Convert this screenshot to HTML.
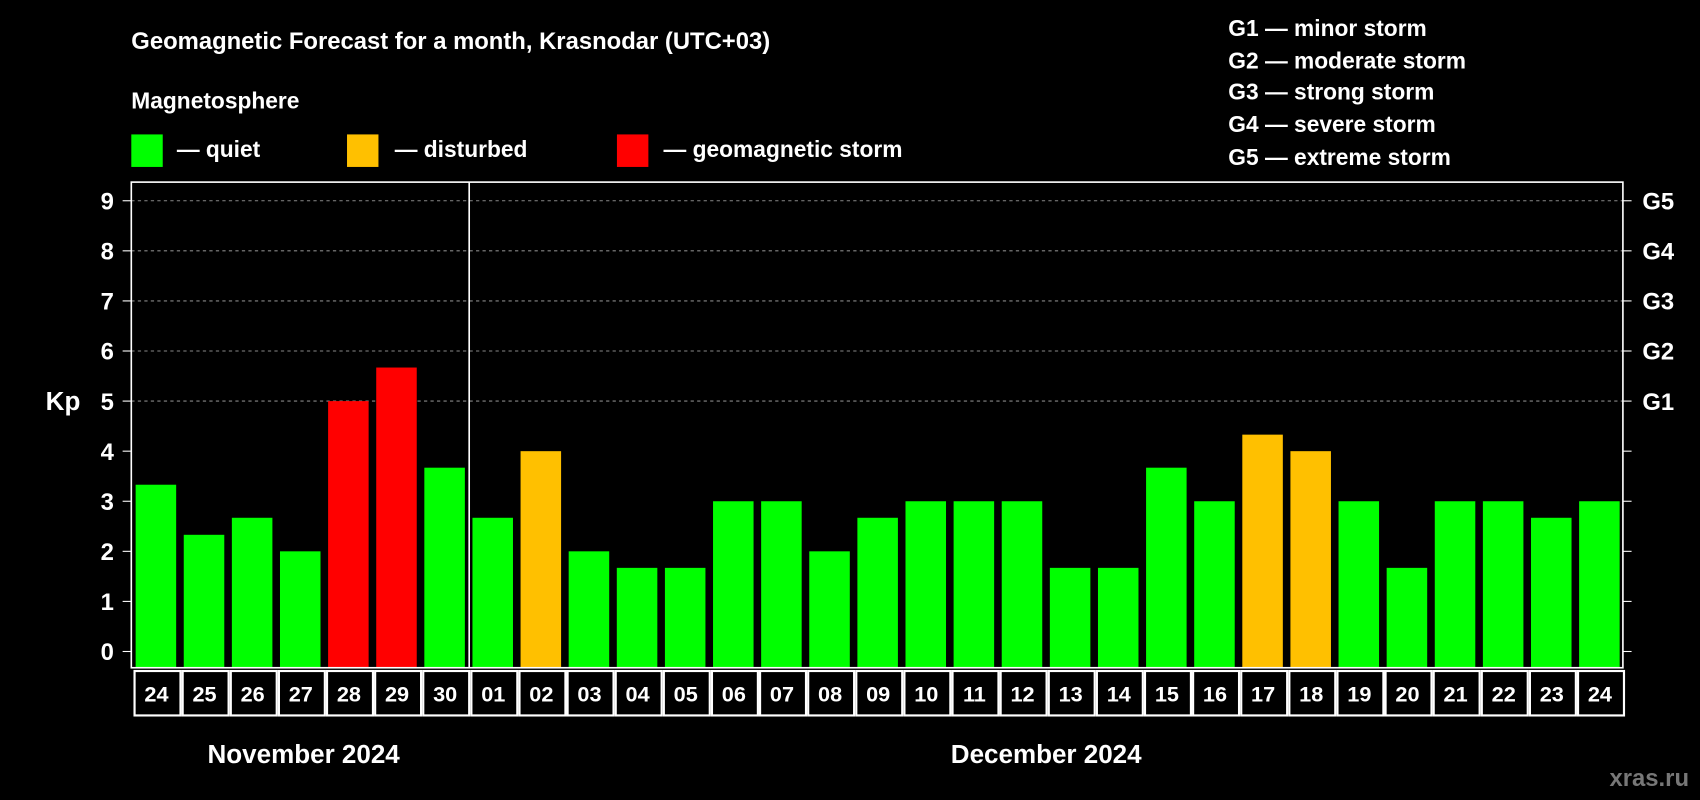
<!DOCTYPE html>
<html><head><meta charset="utf-8"><style>
html,body{margin:0;padding:0;background:#000;}
svg{display:block;font-family:"Liberation Sans",Arial,sans-serif;font-weight:bold;}
</style></head><body>
<svg id="chart" width="1700" height="800" viewBox="0 0 1568 738" xmlns="http://www.w3.org/2000/svg">
<rect width="1568" height="738" fill="#000"/>
<text x="121" y="45" fill="#fff" font-size="22">Geomagnetic Forecast for a month, Krasnodar (UTC+03)</text>
<text x="121" y="100" fill="#fff" font-size="21">Magnetosphere</text>
<rect x="121" y="124" width="29" height="30" fill="#00ff00"/>
<text x="163" y="145" fill="#fff" font-size="21">— quiet</text>
<rect x="320" y="124" width="29" height="30" fill="#ffc000"/>
<text x="364" y="145" fill="#fff" font-size="21">— disturbed</text>
<rect x="569" y="124" width="29" height="30" fill="#ff0000"/>
<text x="612" y="145" fill="#fff" font-size="21">— geomagnetic storm</text>
<g fill="#fff" font-size="21">
<text x="1133" y="33">G1 — minor storm</text>
<text x="1133" y="63">G2 — moderate storm</text>
<text x="1133" y="92">G3 — strong storm</text>
<text x="1133" y="122">G4 — severe storm</text>
<text x="1133" y="152">G5 — extreme storm</text>
</g>
<text x="58" y="378" fill="#fff" font-size="24" text-anchor="middle">Kp</text>
<g id="plot"></g>
<text x="280" y="704" fill="#fff" font-size="24" text-anchor="middle">November 2024</text>
<text x="965" y="704" fill="#fff" font-size="24" text-anchor="middle">December 2024</text>
<text x="1558" y="725" fill="#777" font-size="22" text-anchor="end">xras.ru</text>
</svg>
<script>
const days=["24","25","26","27","28","29","30","01","02","03","04","05","06","07","08","09","10","11","12","13","14","15","16","17","18","19","20","21","22","23","24"];
const kpValues=[3.33,2.33,2.67,2,5,5.67,3.67,2.67,4,2,1.67,1.67,3,3,2,2.67,3,3,3,1.67,1.67,3.67,3,4.33,4,3,1.67,3,3,2.67,3];
const yTicks=[0,1,2,3,4,5,6,7,8,9];
const gLabels=["G1","G2","G3","G4","G5"];
const gLevels=[5,6,7,8,9];
const monthSplit=7;
const NS="http://www.w3.org/2000/svg";
const L=121,R=1497,T=168,B=616;
const n=days.length,cw=(R-L)/n;
const y=v=>601-v*46.2;
const x=i=>L+i*cw;
const g=document.getElementById('plot');
function mk(t,a){const e=document.createElementNS(NS,t);for(const k in a)e.setAttribute(k,a[k]);g.appendChild(e);return e;}
gLevels.forEach((v,i)=>{
 const l=mk('line',{x1:L,x2:R,y1:y(v),y2:y(v),stroke:'#888','stroke-dasharray':'3,3','stroke-width':1});
 
 
 const t=mk('text',{x:1515,y:y(v)+8,fill:'#fff','font-size':22});t.textContent=gLabels[i];
 
 
});
kpValues.forEach((v,i)=>{
 const c=v>=5?'#ff0000':(v>=4?'#ffc000':'#00ff00');
 const r=mk('rect',{x:x(i)+4,y:y(v),width:cw-7,height:B-y(v),fill:c});
 
 
 const cell=mk('rect',{x:x(i)+3,y:619,width:cw-2,height:41,fill:'none',stroke:'#fff','stroke-width':2});
 
 
 const t=mk('text',{x:x(i)+cw/2+1,y:647,fill:'#fff','font-size':20,'text-anchor':'middle'});t.textContent=days[i];
 
 
});
yTicks.forEach(v=>{
 const t=mk('text',{x:105,y:y(v)+8,fill:'#fff','font-size':22,'text-anchor':'end'});t.textContent=v;
 
 
 const a=mk('line',{x1:113,x2:L,y1:y(v),y2:y(v),stroke:'#fff','stroke-width':1});
 
 
 const b=mk('line',{x1:R,x2:R+8,y1:y(v),y2:y(v),stroke:'#fff','stroke-width':1});
 
 
});
const fr=mk('rect',{x:L,y:T,width:R-L,height:B-T,fill:'none',stroke:'#fff','stroke-width':1.5});


const sep=mk('line',{x1:x(monthSplit)+1,x2:x(monthSplit)+1,y1:T,y2:B,stroke:'#fff','stroke-width':1.5});


</script>
</body></html>
